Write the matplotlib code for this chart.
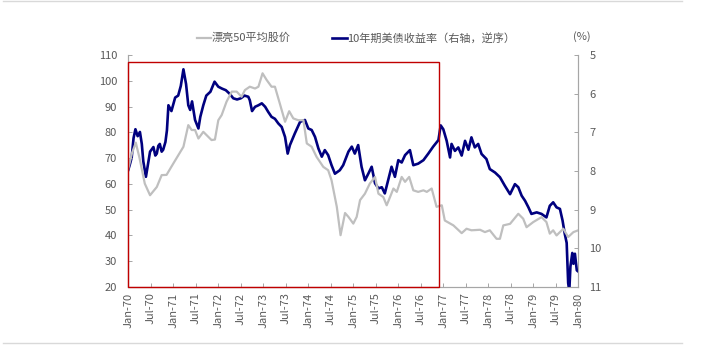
import numpy as np
import matplotlib
matplotlib.use('Agg')
import matplotlib.pyplot as plt
from matplotlib.lines import Line2D
from matplotlib.patches import Rectangle

plt.rcParams['font.family'] = ['Noto Sans CJK SC', 'DejaVu Sans']

# 漂亮50平均股价 (月份序号: 0 = 1970年1月)
mes_acoes = [0, 1, 2, 3, 4.4, 5.8, 7.6, 8.9, 10.2, 12.0, 14.7, 16.0, 16.9, 17.8, 18.7, 20.0,
             21.3, 22.2, 23.1, 24.0, 24.9, 26.2, 27.6, 28.9, 30.2, 31.1, 32.4, 33.8, 34.7,
             35.8, 36.9, 38.2, 39.1, 40.4, 41.8, 42.9, 44.0, 45.3, 46.7, 47.6, 48.9, 50.2,
             52.0, 53.3, 54.2, 55.6, 56.6, 57.8, 58.7, 60.0, 60.9, 61.8, 63.1, 64.4, 65.8,
             66.7, 68.0, 68.9, 69.8, 70.7, 71.6, 72.9, 73.8, 74.9, 76.0, 77.3, 78.7, 79.6,
             80.9, 82.2, 83.6, 84.4, 86.7, 88.9, 90.2, 91.5, 93.8, 95.1, 96.4, 98.2, 99.1,
             100.0, 101.8, 104.0, 105.3, 106.2, 108.0, 110.2, 111.5, 112.4, 113.3, 114.2,
             116.0, 117.3, 118.7, 120.0]
acoes = [66, 72, 76, 70, 60.1, 55.6, 58.8, 63.4, 63.5, 67.9, 74.4, 82.8, 80.9, 80.9, 77.6, 80.2,
         78.3, 77.0, 77.2, 84.7, 86.7, 91.9, 95.8, 95.8, 93.8, 96.4, 97.7, 97.0, 97.7,
         102.9, 100.3, 97.7, 97.7, 91.2, 84.1, 88.2, 85.4, 84.7, 84.7, 75.7, 74.4, 70.5,
         66.6, 65.3, 61.4, 51.1, 40.1, 48.7, 47.2, 44.6, 47.2, 53.7, 56.2, 60.1, 62.7,
         56.2, 54.9, 51.7, 54.9, 58.2, 56.9, 62.7, 60.8, 62.7, 57.5, 56.9, 57.5, 56.9,
         58.2, 51.1, 51.7, 45.8, 43.9, 40.9, 42.6, 42.0, 42.2, 41.3, 42.0, 38.7, 38.7,
         43.9, 44.5, 48.4, 46.5, 43.2, 45.2, 47.1, 45.2, 40.7, 42.0, 40.0,
         42.6, 39.4, 41.3, 42.0]

# 10年期美债收益率 (%)
mes_juros = [0.0, 0.5, 0.9, 1.4, 1.9, 2.5, 3.1, 3.6, 4.0, 4.7, 5.3, 5.8, 6.7, 7.2, 7.6, 8.0, 8.4,
             8.9, 9.3, 9.9, 10.3, 10.7, 11.5, 12.5, 13.3, 14.0, 14.7, 15.4, 16.0, 16.5, 17.0,
             17.8, 18.7, 19.2, 20.0, 20.8, 21.9, 23.0, 24.0, 25.0, 26.0, 27.0, 28.0, 29.0,
             30.0, 31.0, 32.0, 32.4, 33.0, 33.8, 34.7, 35.6, 36.5, 37.3, 38.2, 39.1, 40.0,
             40.9, 41.8, 42.5, 43.1, 44.4, 45.8, 47.1, 48.0, 48.9, 49.8, 50.7, 51.6, 52.4,
             53.3, 54.2, 55.1, 56.4, 57.3, 58.7, 59.6, 60.4, 61.3, 62.2, 63.1, 64.0, 64.9,
             65.8, 66.7, 67.6, 68.4, 69.3, 70.2, 71.1, 72.0, 72.9, 73.8, 75.1, 76.0, 77.3,
             78.7, 80.0, 81.3, 82.7, 83.3, 84.0, 84.9, 85.8, 86.2, 87.1, 88.0, 88.9, 89.8,
             90.7, 91.5, 92.4, 93.3, 94.2, 95.5, 96.4, 97.8, 99.1, 100.4, 101.8, 103.1, 104.0,
             104.9, 105.8, 106.7, 107.5, 108.9, 110.2, 111.5, 112.4, 113.3, 114.2, 115.1,
             115.8, 116.4, 116.9, 117.3, 117.6, 117.9, 118.4, 118.7, 119.1, 119.6, 120.0]
juros = [7.97, 7.8, 7.65, 7.15, 6.92, 7.1, 6.99, 7.3, 7.75, 8.15, 7.8, 7.5, 7.38, 7.6, 7.55, 7.35, 7.3,
         7.5, 7.45, 7.25, 6.95, 6.3, 6.45, 6.1, 6.05, 5.8, 5.37, 5.75, 6.3, 6.42, 6.2,
         6.68, 6.9, 6.6, 6.3, 6.05, 5.95, 5.69, 5.82, 5.87, 5.91, 6.0, 6.12, 6.15,
         6.12, 6.05, 6.08, 6.17, 6.45, 6.34, 6.3, 6.25, 6.34, 6.47, 6.6, 6.65, 6.77,
         6.86, 7.12, 7.55, 7.33, 7.03, 6.73, 6.68, 6.9, 6.94, 7.12, 7.42, 7.63, 7.46,
         7.59, 7.85, 8.07, 7.98, 7.85, 7.5, 7.37, 7.55, 7.33, 7.89, 8.24, 8.07, 7.89,
         8.32, 8.45, 8.42, 8.58, 8.24, 7.89, 8.15, 7.72, 7.78, 7.59, 7.46, 7.85, 7.81,
         7.72, 7.55, 7.37, 7.2, 6.82, 6.92, 7.22, 7.65, 7.3, 7.48, 7.39, 7.6, 7.22,
         7.45, 7.13, 7.39, 7.3, 7.56, 7.69, 7.95, 8.04, 8.16, 8.38, 8.6, 8.34, 8.42,
         8.64, 8.77, 8.94, 9.11, 9.07, 9.11, 9.2, 8.9, 8.81, 8.94, 8.98,
         9.28, 9.63, 9.86, 10.9, 11.1, 10.47, 10.12, 10.4, 10.14, 10.57, 10.6]

rotulos_x = []
for ano in range(70, 81):
    rotulos_x.append(f'Jan-{ano}')
    if ano < 80:
        rotulos_x.append(f'Jul-{ano}')

# Caixa vermelha (1970-01 até 1976-12)
caixa_inicio, caixa_fim = 0, 82.9
caixa_base, caixa_topo = 20, 107.3

cinza = '#BFBFBF'
azul = '#00007F'
texto = '#595959'
eixo = '#A6A6A6'

fig = plt.figure(figsize=(7.12, 3.46), dpi=100)
ax1 = fig.add_axes([128.3 / 712, 1 - 287 / 346, 450 / 712, 232 / 346])
ax2 = ax1.twinx()

ax1.plot(mes_acoes, acoes, color=cinza, linewidth=1.6, zorder=2)
ax2.plot(mes_juros, juros, color=azul, linewidth=1.9, zorder=3)

ax1.set_zorder(ax2.get_zorder() + 1)
ax1.patch.set_visible(False)

ax1.set_xlim(0, 120)
ax1.set_ylim(20, 110)
ax1.set_yticks(range(20, 111, 10))
ax2.set_ylim(11, 5)
ax2.set_yticks(range(5, 12))
ax1.set_xticks(range(0, 121, 6))
ax1.set_xticklabels(rotulos_x, rotation=90)

ax1.add_patch(Rectangle((caixa_inicio, caixa_base), caixa_fim - caixa_inicio, caixa_topo - caixa_base,
                        fill=False, edgecolor='#C00000', linewidth=1.0, zorder=5, clip_on=False))

for ax in (ax1, ax2):
    ax.spines['top'].set_visible(False)
    for s in ('left', 'right', 'bottom'):
        ax.spines[s].set_color(eixo)
        ax.spines[s].set_linewidth(0.8)
    ax.tick_params(direction='in', length=3, width=0.7, color=eixo, labelcolor=texto, labelsize=8)
ax1.tick_params(axis='y', pad=8)
ax2.tick_params(axis='y', pad=8)
ax1.tick_params(axis='x', pad=4)

# Legenda manual
y_leg = 1 - 38 / 346
fig.add_artist(Line2D([197 / 712, 211 / 712], [y_leg, y_leg], color=cinza, linewidth=1.6))
fig.text(212 / 712, y_leg, '漂亮50平均股价', color=texto, fontsize=8, va='center', ha='left')
fig.add_artist(Line2D([332 / 712, 347 / 712], [y_leg, y_leg], color=azul, linewidth=1.9))
fig.text(347 / 712, y_leg, '10年期美债收益率（右轴，逆序）', color=texto, fontsize=8, va='center', ha='left')
fig.text(582 / 712, 1 - 37 / 346, '(%)', color=texto, fontsize=8, va='center', ha='center')

# Linhas de moldura
fig.add_artist(Line2D([3 / 712, 682 / 712], [1 - 0.7 / 346, 1 - 0.7 / 346], color='#D9D9D9', linewidth=1))
fig.add_artist(Line2D([3 / 712, 682 / 712], [1 - 343 / 346, 1 - 343 / 346], color='#D9D9D9', linewidth=1))

fig.savefig('out.png', dpi=100)
